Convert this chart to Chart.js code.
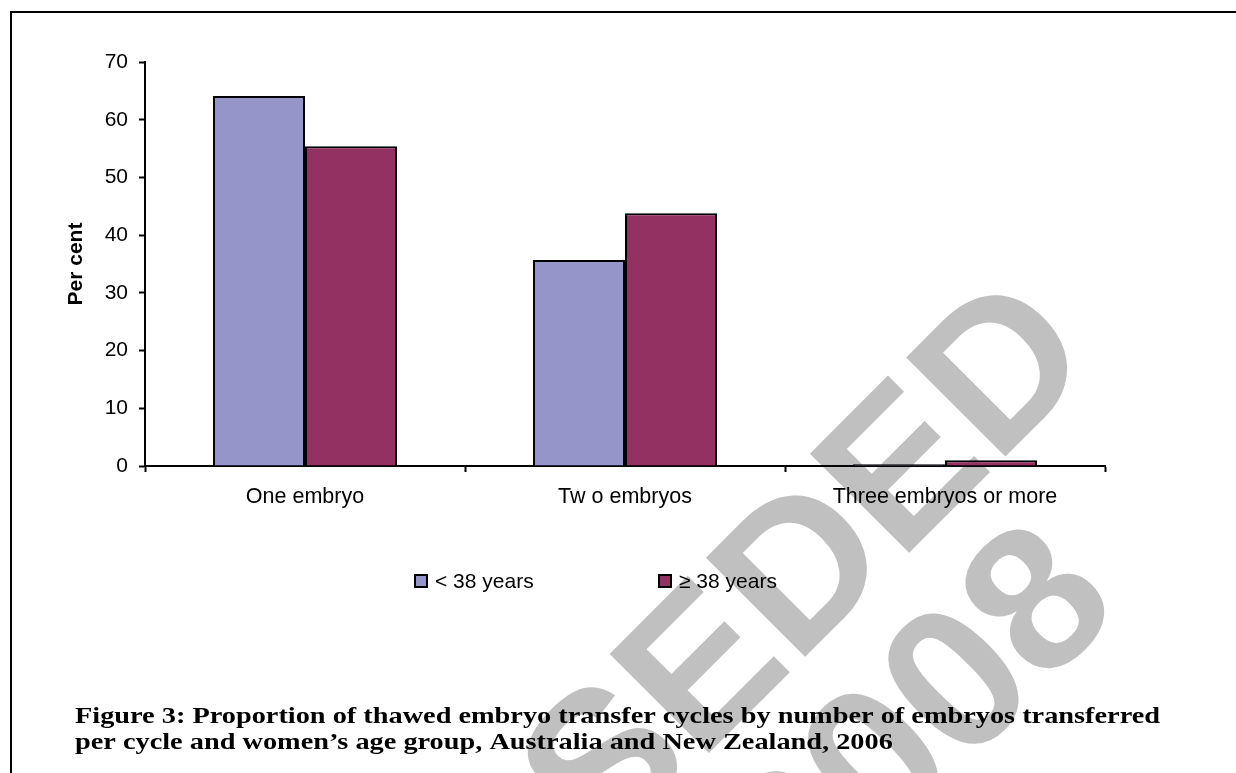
<!DOCTYPE html>
<html>
<head>
<meta charset="utf-8">
<script src="https://cdn.jsdelivr.net/npm/chart.js@4"></script>
<style>
  html, body { margin: 0; padding: 0; background: #fff; width: 1236px; height: 773px; overflow: hidden; }
  #wrap { position: absolute; left: 0; top: 0; width: 1236px; height: 773px; }
  #frame { position: absolute; left: 10px; top: 11px; width: 1400px; height: 900px;
           border-left: 2px solid #000; border-top: 2px solid #000; pointer-events: none; }
</style>
</head>
<body>
<div id="wrap"><canvas id="chart" width="1236" height="773"></canvas></div>
<div id="frame"></div>
<script>
// Number of embryos transferred per thawed cycle
const categories = ['One embryo', 'Tw o embryos', 'Three embryos or more'];
// Per cent of cycles, by women's age group
const seriesLabels = ['< 38 years', '\u2265 38 years'];
const under38 = [64.1, 35.7, 0.3];
const over38 = [55.4, 43.8, 1.0];
// Value axis
const yMin = 0;
const yMax = 70;
const yStep = 10;
const yTitle = 'Per cent';
// Figure caption
const captionLines = [
  'Figure 3: Proportion of thawed embryo transfer cycles by number of embryos transferred',
  'per cycle and women\u2019s age group, Australia and New Zealand, 2006'
];
// Background stamp
const stampLines = ['SUPERSEDED', '2008'];

const SANS = '"Liberation Sans", Arial, sans-serif';
const SERIF = '"Liberation Serif", "Times New Roman", serif';
const colors = ['#9595C9', '#933262'];

// White page plus the grey diagonal stamp behind everything
const backdrop = {
  id: 'backdrop',
  beforeDraw(chart) {
    const ctx = chart.ctx;
    ctx.save();
    ctx.fillStyle = '#fff';
    ctx.fillRect(0, 0, chart.width, chart.height);
    ctx.fillStyle = '#C0C0C0';
    ctx.font = 'bold 204px ' + SANS;
    ctx.textAlign = 'right';
    ctx.textBaseline = 'alphabetic';
    const anchors = [[1100, 362], [1124, 608]];
    stampLines.forEach((t, i) => {
      ctx.save();
      ctx.translate(anchors[i][0], anchors[i][1]);
      ctx.rotate(-Math.PI / 4);
      ctx.fillText(t, 0, 0);
      ctx.restore();
    });
    ctx.restore();
  }
};

// Legend row and caption drawn under the plot
const extras = {
  id: 'extras',
  afterDraw(chart) {
    const ctx = chart.ctx;
    ctx.save();
    const boxX = [415, 659];
    ctx.font = '21px ' + SANS;
    ctx.textBaseline = 'alphabetic';
    ctx.textAlign = 'left';
    chart.data.datasets.forEach((ds, i) => {
      ctx.fillStyle = ds.backgroundColor;
      ctx.fillRect(boxX[i], 575, 12, 12);
      ctx.lineWidth = 2;
      ctx.strokeStyle = '#000';
      ctx.strokeRect(boxX[i], 575, 12, 12);
      ctx.fillStyle = '#000';
      ctx.fillText(ds.label, boxX[i] + 20, 588);
    });

    ctx.font = 'bold 24px ' + SERIF;
    const w0 = ctx.measureText(captionLines[0]).width;
    const sx = (1160 - 75) / w0;
    const baselines = [723, 749];
    captionLines.forEach((line, i) => {
      ctx.save();
      ctx.translate(75, baselines[i]);
      ctx.scale(sx, 1);
      ctx.fillStyle = '#000';
      ctx.fillText(line, 0, 0);
      ctx.restore();
    });
    ctx.restore();
  }
};

new Chart(document.getElementById('chart'), {
  type: 'bar',
  data: {
    labels: categories,
    datasets: [
      { label: seriesLabels[0], data: under38, backgroundColor: colors[0], borderColor: '#000', borderWidth: 2 },
      { label: seriesLabels[1], data: over38, backgroundColor: colors[1], borderColor: '#000', borderWidth: 2 }
    ]
  },
  options: {
    responsive: false,
    animation: false,
    devicePixelRatio: 1,
    layout: { padding: { left: 0, top: 62, right: 131, bottom: 247 } },
    datasets: { bar: { categoryPercentage: 0.575, barPercentage: 1.0 } },
    plugins: { legend: { display: false }, tooltip: { enabled: false } },
    scales: {
      x: {
        afterFit(s) { s.height = 60; },
        grid: { drawOnChartArea: false, offset: true, tickLength: 6, tickColor: '#000', tickWidth: 2 },
        border: { display: true, color: '#000', width: 2 },
        ticks: { color: '#000', font: { family: SANS, size: 21.5 }, padding: 12, maxRotation: 0 }
      },
      y: {
        min: yMin, max: yMax,
        afterFit(s) { s.width = 145; },
        grid: { drawOnChartArea: false, tickLength: 6, tickColor: '#000', tickWidth: 2 },
        border: { display: true, color: '#000', width: 2 },
        ticks: { stepSize: yStep, color: '#000', font: { family: SANS, size: 21 }, padding: 11 },
        title: { display: true, text: yTitle, color: '#000', font: { family: SANS, size: 21, weight: 'bold' }, padding: { top: 64, bottom: 0 } }
      }
    }
  },
  plugins: [backdrop, extras]
});
</script>
</body>
</html>
